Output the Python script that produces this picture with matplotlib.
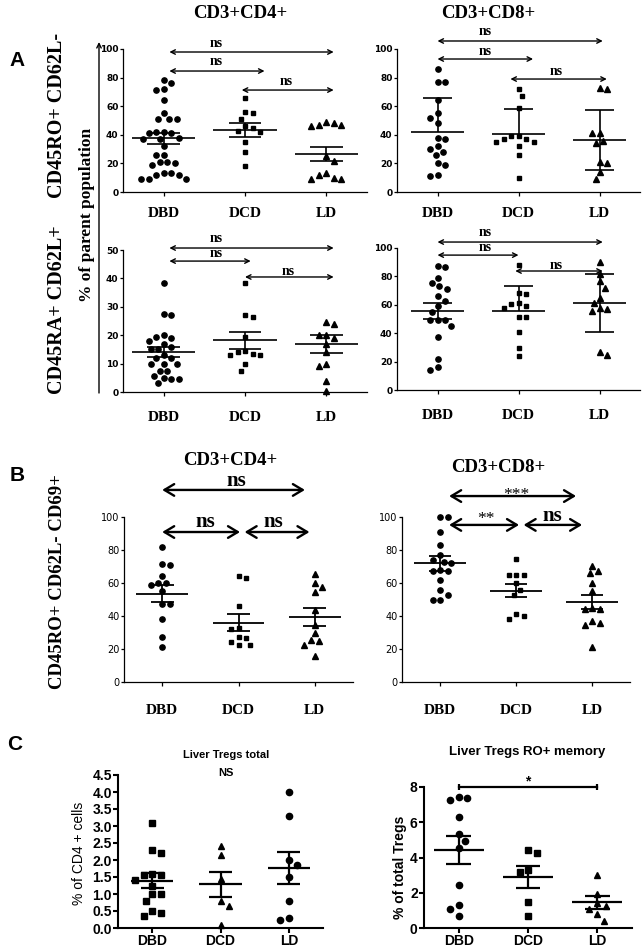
import numpy as np
import matplotlib
matplotlib.use("Agg")
import matplotlib.pyplot as plt

W, H = 644, 948
groups = ["DBD", "DCD", "LD"]

# ---- A: CD3+CD4+ CD45RO+ CD62L- (% of parent population)
a1_dbd = [78, 76, 72, 71, 64, 55, 51, 51, 51, 42, 42, 41, 41, 38, 37, 37, 32,
          26, 26, 21, 21, 20, 19, 13, 13, 12, 12, 9, 9, 9]
a1_dcd = [66, 56, 55, 51, 46, 45, 43, 42, 35, 28, 18]
a1_ld = [49, 48, 47, 47, 46, 25, 22, 13, 12, 10, 9, 9]
a1_mean = [37.5, 43.3, 26.5]
a1_lo = [4.1, 4.7, 5.0]
a1_hi = [4.1, 4.7, 5.0]

# ---- A: CD3+CD8+ CD45RO+ CD62L-
a2_dbd = [86, 77, 77, 64, 55, 52, 48, 38, 37, 32, 30, 28, 26, 20, 19, 11, 12]
a2_dcd = [72, 67, 59, 39, 37, 35, 35, 37, 39, 32, 26, 10]
a2_ld = [72, 73, 41, 41, 36, 34, 21, 20, 14, 9]
a2_mean = [41.7, 40.8, 36.2]
a2_lo = [0, 0, 20.8]
a2_hi = [24.0, 17.4, 20.8]

# ---- A: CD3+CD4+ CD45RA+ CD62L+
a3_dbd = [38.5, 27, 27.5, 20, 19.5, 19, 18, 17, 16, 15, 15, 13, 12, 12, 10, 10,
          10, 7.5, 7.5, 5.5, 5, 4.5, 4.5, 3]
a3_dcd = [38.5, 27, 26.5, 19.5, 14.5, 14, 13.5, 13, 13, 10, 7.5]
a3_ld = [24.5, 24, 20, 20, 19, 17, 14, 10, 9, 4, 0.3]
a3_mean = [14.1, 18.2, 16.8]
a3_lo = [1.6, 3.0, 3.2]
a3_hi = [1.6, 3.0, 3.2]

# ---- A: CD3+CD8+ CD45RA+ CD62L+
a4_dbd = [86.5, 87, 79, 75, 71, 73, 66, 63, 59, 55, 49, 49, 49, 45, 37, 22, 14, 16]
a4_dcd = [88, 67.5, 68, 61.5, 60.5, 59, 57.5, 51.5, 51.5, 41, 29.5, 24]
a4_ld = [90, 82, 76.5, 72, 65, 61, 57, 55.5, 57.5, 24.5, 27]
a4_mean = [55.8, 55.3, 61.0]
a4_lo = [5.5, 0, 20.5]
a4_hi = [5.5, 17.7, 20.5]

# ---- B: CD45RO+ CD62L- CD69+
b1_dbd = [82, 71.5, 71, 64, 60, 60, 59, 55, 47, 47, 38, 27, 21]
b1_dcd = [64, 63, 46, 33, 32, 27.5, 26.5, 24.5, 22.5, 22.5]
b1_ld = [65.5, 60, 57.5, 54.5, 43.5, 34.5, 29.5, 25, 25.5, 22.5, 15.5]
b1_mean = [53.6, 36.0, 39.5]
b1_err = [5.3, 5.0, 5.4]

b2_dbd = [100, 100, 91, 83, 77, 74, 73, 72, 68, 67, 67, 62, 56, 53, 50, 50]
b2_dcd = [74.5, 65, 65, 65, 60, 56, 52.5, 41, 40, 38]
b2_ld = [70.5, 66, 67, 60, 55, 45, 44.5, 44, 36, 34.5, 37, 21]
b2_mean = [71.9, 55.4, 48.5]
b2_err = [4.4, 4.1, 4.4]

# ---- C: Liver Tregs
c1_dbd = [3.1, 2.3, 2.2, 1.6, 1.55, 1.55, 1.4, 1.25, 1.0, 1.0, 0.8, 0.5, 0.45, 0.35]
c1_dcd = [2.4, 2.15, 1.45, 0.8, 0.65, 0.1]
c1_ld = [4.0, 3.3, 2.0, 1.85, 1.5, 0.8, 0.25, 0.3]
c1_mean = [1.39, 1.28, 1.76]
c1_err = [0.22, 0.36, 0.47]

c2_dbd = [7.45, 7.25, 7.35, 6.3, 5.35, 4.95, 4.55, 2.45, 1.3, 1.05, 0.7]
c2_dcd = [4.45, 4.25, 3.2, 3.3, 1.45, 0.7]
c2_ld = [3.0, 1.95, 1.25, 1.4, 1.1, 0.8, 0.4]
c2_mean = [4.44, 2.9, 1.45]
c2_err = [0.8, 0.62, 0.36]

SERIF = "Liberation Serif"
SANS = "Liberation Sans"
NARROW = ["Liberation Sans Narrow", "DejaVu Sans"]

fig = plt.figure(figsize=(W / 100, H / 100), dpi=100)


def ft(x, y, s, **kw):
    kw.setdefault("ha", "center")
    kw.setdefault("va", "center")
    fig.text(x / W, 1 - y / H, s, **kw)


def add_ax(l, r, t, b, ymax, step, lw=0.9):
    ax = fig.add_axes([l / W, 1 - b / H, (r - l) / W, (b - t) / H])
    ax.set_xlim(-0.5, 2.5)
    ax.set_ylim(0, ymax)
    ax.set_yticks(np.arange(0, ymax + step / 2, step))
    ax.set_xticks([0, 1, 2])
    for s in ["top", "right"]:
        ax.spines[s].set_visible(False)
    for s in ["left", "bottom"]:
        ax.spines[s].set_linewidth(lw)
    ax.tick_params(width=lw)
    return ax


def swarm(vals, sx, sy, d):
    vals = np.asarray(vals, float)
    xs = np.zeros(len(vals))
    placed = []
    flip = 1
    for i in np.argsort(-vals):
        y = vals[i] * sy
        k = 0
        found = None
        while found is None:
            cands = [0.0] if k == 0 else [flip * k * d / 4, -flip * k * d / 4]
            for c in cands:
                if all((c - px) ** 2 + (y - py) ** 2 >= d * d for px, py in placed):
                    found = c
                    break
            k += 1
        if found != 0:
            flip = -flip
        xs[i] = found / sx
        placed.append((found, y))
    return xs


def panel(ax, cols, markers, means, lo, hi, ms, d, wm, wc, lw):
    sx = ax.bbox.width / 3
    sy = ax.bbox.height / ax.get_ylim()[1]
    for i, (vals, mk) in enumerate(zip(cols, markers)):
        xs = i + swarm(vals, sx, sy, d)
        m = ms * 0.85 if mk == "s" else ms
        ax.plot(xs, vals, mk, color="k", ms=m, ls="none", clip_on=False, zorder=3)
        ax.hlines(means[i], i - wm, i + wm, color="k", lw=lw, zorder=4)
        if hi[i]:
            ax.vlines(i, means[i], means[i] + hi[i], color="k", lw=lw, zorder=4)
            ax.hlines(means[i] + hi[i], i - wc, i + wc, color="k", lw=lw, zorder=4)
        if lo[i]:
            ax.vlines(i, means[i] - lo[i], means[i], color="k", lw=lw, zorder=4)
            ax.hlines(means[i] - lo[i], i - wc, i + wc, color="k", lw=lw, zorder=4)


def darrow(ax, x1, x2, y, lw, ms, style):
    ax.annotate("", xy=(x2, y), xytext=(x1, y), annotation_clip=False,
                arrowprops=dict(arrowstyle=style, lw=lw, color="k",
                                mutation_scale=ms, shrinkA=0, shrinkB=0))


def style_ab(ax, pad):
    ax.set_xticklabels(groups, family=SERIF, fontweight="bold", fontsize=11)
    ax.tick_params(axis="x", length=3, pad=pad)
    ax.tick_params(axis="y", length=2.5, pad=0.8)
    for t in ax.get_yticklabels():
        t.set_family(NARROW)
        t.set_fontsize(6.5)
        t.set_fontweight("bold")


mk_abc = ["o", "s", "^"]

# ===================== A =====================
ax1 = add_ax(123, 367, 49, 192, 100, 20)
ax2 = add_ax(397, 640, 49, 192, 100, 20)
ax3 = add_ax(123, 367, 250, 392, 50, 10)
ax4 = add_ax(397, 640, 248, 390, 100, 20)
for ax in (ax1, ax2):
    style_ab(ax, 8)
for ax in (ax3, ax4):
    style_ab(ax, 11)

panel(ax1, [a1_dbd, a1_dcd, a1_ld], mk_abc, a1_mean, a1_lo, a1_hi, 3.8, 7.5, 0.39, 0.2, 1.2)
panel(ax2, [a2_dbd, a2_dcd, a2_ld], mk_abc, a2_mean, a2_lo, a2_hi, 3.8, 7.5, 0.33, 0.18, 1.2)
panel(ax3, [a3_dbd, a3_dcd, a3_ld], mk_abc, a3_mean, a3_lo, a3_hi, 3.8, 7.5, 0.39, 0.2, 1.2)
panel(ax4, [a4_dbd, a4_dcd, a4_ld], mk_abc, a4_mean, a4_lo, a4_hi, 3.8, 7.5, 0.33, 0.18, 1.2)

ns_kw = dict(family=SERIF, fontweight="bold", fontsize=10, ha="center", va="center")
for ax, rows in [
    (ax1, [(0.07, 2.09, 97.9, 0.65, 104), (0.07, 1.24, 84.6, 0.65, 91), (0.96, 2.09, 71.3, 1.51, 77)]),
    (ax2, [(0.0, 2.04, 105.6, 0.59, 112), (0.0, 1.18, 93, 0.59, 98), (0.9, 2.09, 79, 1.47, 84.6)]),
    (ax3, [(0.07, 2.09, 50.7, 0.65, 54.2), (0.07, 1.07, 46.1, 0.65, 48.9), (1.0, 2.09, 40.5, 1.53, 42.6)]),
    (ax4, [(0.0, 2.04, 104.2, 0.59, 110.6), (0.0, 1.0, 95, 0.59, 100.7), (0.96, 2.04, 83.8, 1.47, 88)]),
]:
    for x1, x2, y, tx, ty in rows:
        darrow(ax, x1, x2, y, 1.0, 8, "<->")
        ax.text(tx, ty, "ns", clip_on=False, **ns_kw)

# shared y arrow of panel A
ax1.annotate("", xy=(99 / W, 1 - 42 / H), xytext=(99 / W, 1 - 393 / H),
             xycoords="figure fraction", textcoords="figure fraction",
             arrowprops=dict(arrowstyle="->", lw=1.0, color="k", mutation_scale=8,
                             shrinkA=0, shrinkB=0))

big = dict(family=SERIF, fontweight="bold")
ft(17, 60, "A", family=SANS, fontweight="bold", fontsize=15)
ft(240, 14, "CD3+CD4+", fontsize=13.5, **big)
ft(488, 14, "CD3+CD8+", fontsize=13.5, **big)
ft(57, 115, "CD45RO+ CD62L-", rotation=90, fontsize=14.5, **big)
ft(57, 310, "CD45RA+ CD62L+", rotation=90, fontsize=14.5, **big)
ft(87, 215, "% of parent population", rotation=90, fontsize=12.5, **big)

# ===================== B =====================
bx1 = add_ax(124, 353, 517, 682, 100, 20)
bx2 = add_ax(402, 630, 517, 682, 100, 20)
for ax in (bx1, bx2):
    style_ab(ax, 13)
    for t in ax.get_yticklabels():
        t.set_fontweight("normal")
        t.set_fontsize(7)

panel(bx1, [b1_dbd, b1_dcd, b1_ld], mk_abc, b1_mean, b1_err, b1_err, 3.8, 7.5, 0.34, 0.15, 1.3)
panel(bx2, [b2_dbd, b2_dcd, b2_ld], mk_abc, b2_mean, b2_err, b2_err, 3.8, 7.5, 0.34, 0.15, 1.3)

bstyle = "<->, head_length=0.5, head_width=0.3"
bns = dict(family=SERIF, fontweight="bold", fontsize=15, ha="center", va="baseline")
darrow(bx1, 0.0, 1.87, 116.4, 1.7, 14, bstyle)
bx1.text(0.97, 118.6, "ns", **bns)
darrow(bx1, 0.0, 1.02, 90.9, 1.7, 14, bstyle)
darrow(bx1, 1.08, 1.93, 90.9, 1.7, 14, bstyle)
bx1.text(0.56, 94.0, "ns", **bns)
bx1.text(1.46, 94.0, "ns", **bns)

darrow(bx2, 0.12, 1.79, 112.7, 1.7, 14, bstyle)
bx2.text(1.01, 110.8, "***", family=SERIF, fontsize=12.5, ha="center", va="baseline")
darrow(bx2, 0.12, 1.04, 95.2, 1.7, 14, bstyle)
darrow(bx2, 1.1, 1.87, 95.2, 1.7, 14, bstyle)
bx2.text(0.6, 96.5, "**", family=SERIF, fontsize=12.5, ha="center", va="baseline")
bx2.text(1.48, 97.6, "ns", **bns)

ft(17, 475, "B", family=SANS, fontweight="bold", fontsize=15)
ft(230, 460, "CD3+CD4+", fontsize=13.5, **big)
ft(498, 467, "CD3+CD8+", fontsize=13.5, **big)
ft(58, 582, "CD45RO+ CD62L- CD69+", rotation=90, fontsize=13.5, **big)

# ===================== C =====================
cx1 = add_ax(118, 323, 775, 928, 4.5, 0.5, lw=1.5)
cx2 = add_ax(424, 632, 787, 928, 8, 2, lw=1.5)
cx1.set_yticklabels([f"{v:.1f}" for v in np.arange(0, 4.51, 0.5)])
for ax in (cx1, cx2):
    ax.set_xticklabels(groups)
    ax.tick_params(length=3.5, pad=1)
    for t in ax.get_xticklabels() + ax.get_yticklabels():
        t.set_family(SANS)
        t.set_fontweight("bold")
        t.set_fontsize(10)

panel(cx1, [c1_dbd, c1_dcd, c1_ld], ["s", "^", "o"], c1_mean, c1_err, c1_err, 4.5, 8.5, 0.31, 0.17, 1.6)
panel(cx2, [c2_dbd, c2_dcd, c2_ld], ["o", "s", "^"], c2_mean, c2_err, c2_err, 4.5, 8.5, 0.36, 0.18, 1.6)

# significance bar
cx2.plot([0, 2], [8, 8], color="k", lw=1.6, clip_on=False)
cx2.vlines([0, 2], 7.83, 8.17, color="k", lw=1.6, clip_on=False)
cx2.text(1.0, 8.1, "*", family=SANS, fontweight="bold", fontsize=10, ha="center", va="baseline")

ft(15, 745, "C", family=SANS, fontweight="bold", fontsize=15)
ft(226, 755, "Liver Tregs total", family=SANS, fontweight="bold", fontsize=8)
ft(226, 773, "NS", family=SANS, fontweight="bold", fontsize=8)
ft(527, 752, "Liver Tregs RO+ memory", family=SANS, fontweight="bold", fontsize=9.5)
ft(79, 853, "% of CD4 + cells", rotation=90, family=SANS, fontsize=10)
ft(400, 867, "% of total Tregs", rotation=90, family=SANS, fontweight="bold", fontsize=10)

fig.savefig("out.png", dpi=100)
